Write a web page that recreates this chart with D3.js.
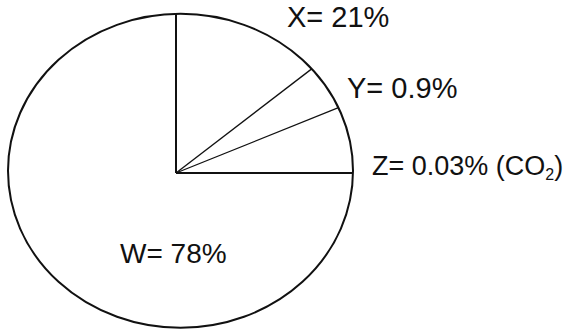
<!DOCTYPE html>
<html>
<head>
<meta charset="utf-8">
<script src="https://cdn.jsdelivr.net/npm/d3@7"></script>
<style>
  body { margin: 0; background: #fff; }
  text { font-family: "Liberation Sans", Arial, sans-serif; fill: #111; }
</style>
</head>
<body>
<div id="chart"></div>
<script>
"use strict";

// == DATA ==
var names = ["X", "Y", "Z", "W"];
var shares = [21, 0.9, 0.03, 78];            // printed percentages
var drawnDegrees = [52.5, 15.6, 21.9, 270];   // slice sizes as drawn (schematic, not to scale)
var extra = ["", "", " (CO", ""];

// == BOILERPLATE ==
var width = 571, height = 334;

var svg = d3.select("#chart")
  .append("svg")
  .attr("width", width)
  .attr("height", height);

// outline ellipse and the point the slices meet at
var ell = { cx: 180.5, cy: 170.8, rx: 172.5, ry: 157 };
var hub = { x: 176, y: 173 };

// == SLICES ==
var pie = d3.pie().sort(null).value(function (d) { return d; });
var arcs = pie(drawnDegrees);

// where a ray from the hub at angle a (clockwise from 12 o'clock) hits the ellipse
function edgePoint(a) {
  var dx = Math.sin(a), dy = -Math.cos(a);
  var ox = hub.x - ell.cx, oy = hub.y - ell.cy;
  var A = dx * dx / (ell.rx * ell.rx) + dy * dy / (ell.ry * ell.ry);
  var B = 2 * (ox * dx / (ell.rx * ell.rx) + oy * dy / (ell.ry * ell.ry));
  var C = ox * ox / (ell.rx * ell.rx) + oy * oy / (ell.ry * ell.ry) - 1;
  var t = (-B + Math.sqrt(B * B - 4 * A * C)) / (2 * A);
  return [hub.x + t * dx, hub.y + t * dy];
}

svg.append("ellipse")
  .attr("cx", ell.cx)
  .attr("cy", ell.cy)
  .attr("rx", ell.rx)
  .attr("ry", ell.ry)
  .attr("fill", "white")
  .attr("stroke", "#111")
  .attr("stroke-width", 2);

svg.selectAll("line.edge")
  .data(arcs)
  .enter()
  .append("line")
  .attr("class", "edge")
  .attr("x1", hub.x)
  .attr("y1", hub.y)
  .attr("x2", function (d) { return edgePoint(d.startAngle)[0]; })
  .attr("y2", function (d) { return edgePoint(d.startAngle)[1]; })
  .attr("stroke", "#111")
  .attr("stroke-width", function (d) {
    var deg = d.startAngle * 180 / Math.PI;
    return (Math.abs(deg % 90) < 0.01) ? 2 : 1.3;
  })
  .attr("shape-rendering", function (d) {
    var deg = d.startAngle * 180 / Math.PI;
    return (Math.abs(deg % 90) < 0.01) ? "crispEdges" : "auto";
  });

// == LABELS ==
var labelPos = [
  { x: 287, y: 27, size: 29 },
  { x: 347, y: 98, size: 29 },
  { x: 372, y: 175, size: 27 },
  { x: 120, y: 263, size: 28 }
];

var labels = svg.selectAll("text.lab")
  .data(names)
  .enter()
  .append("text")
  .attr("class", "lab")
  .attr("x", function (d, i) { return labelPos[i].x; })
  .attr("y", function (d, i) { return labelPos[i].y; })
  .style("font-size", function (d, i) { return labelPos[i].size + "px"; })
  .text(function (d, i) { return d + "= " + shares[i] + "%" + extra[i]; });

// subscript for CO2
var zLab = labels.filter(function (d) { return d === "Z"; });
zLab.append("tspan")
  .attr("dy", 5)
  .style("font-size", "16px")
  .text("2");
zLab.append("tspan")
  .attr("dy", -5)
  .text(")");
</script>
</body>
</html>
